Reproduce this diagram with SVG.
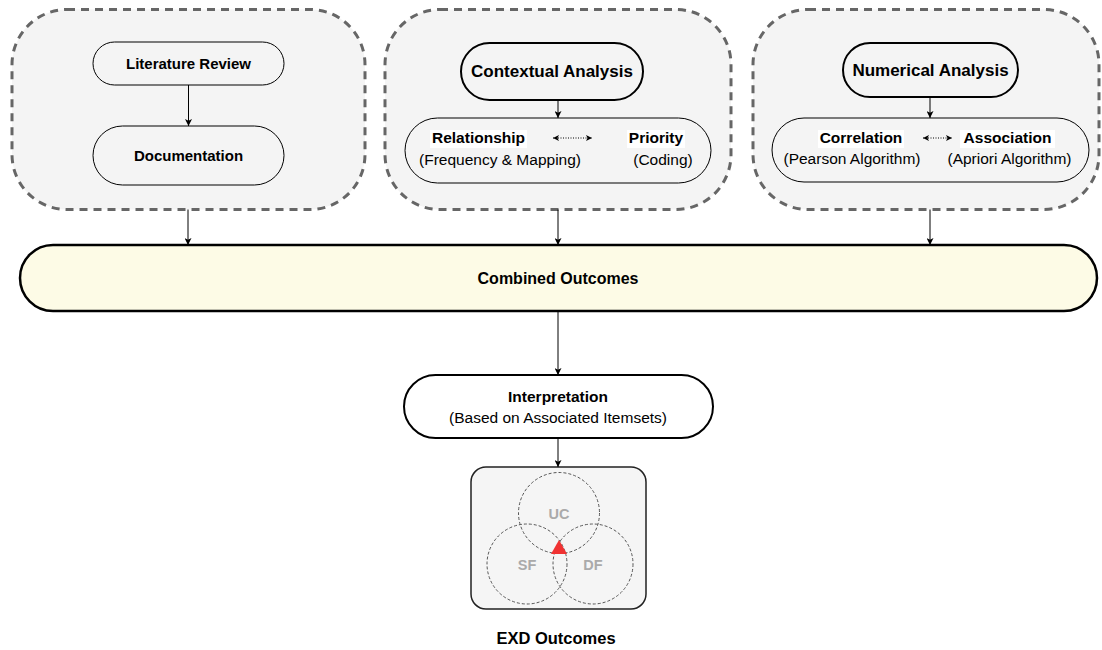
<svg xmlns="http://www.w3.org/2000/svg" width="1102" height="650" viewBox="0 0 1102 650">
  <style>
    .group { fill: #f4f4f4; stroke: #666666; stroke-width: 3; stroke-dasharray: 8 6; }
    .pill { fill: none; stroke: #000; stroke-width: 1; }
    .pill-bold { fill: none; stroke: #000; stroke-width: 2; }
    .t { font-family: "Liberation Sans", Arial, sans-serif; fill: #000; text-anchor: middle; }
    .b { font-weight: bold; }
    .edge { stroke: #000; stroke-width: 1; fill: none; }
    .dots { stroke: #000; stroke-width: 1; stroke-dasharray: 1 1.5; fill: none; }
    .venn { fill: none; stroke: #555; stroke-width: 1; stroke-dasharray: 3 2; }
    .vl { font-family: "Liberation Sans", Arial, sans-serif; font-weight: bold; font-size: 14.5px; fill: #aaaaaa; text-anchor: middle; }
  </style>
  <defs>
    <marker id="arrow" viewBox="0 0 10 10" refX="10" refY="5" markerWidth="7" markerHeight="7" markerUnits="userSpaceOnUse" orient="auto">
      <path d="M0,0 L10,5 L0,10 L2.5,5 Z" fill="#000"/>
    </marker>
    <marker id="small" viewBox="0 0 10 10" refX="10" refY="5" markerWidth="6" markerHeight="6" markerUnits="userSpaceOnUse" orient="auto-start-reverse">
      <path d="M0,0 L10,5 L0,10 L2.5,5 Z" fill="#000"/>
    </marker>
  </defs>

  <!-- Qualitative source group -->
  <g id="group-literature">
    <rect class="group" x="12" y="9.5" width="353" height="200" rx="55" ry="55"/>
  </g>
  <g id="node-literature-review">
    <rect class="pill" x="93" y="42" width="191" height="43" rx="21.5" ry="21.5"/>
    <text class="t b" x="188.5" y="69" font-size="15">Literature Review</text>
  </g>
  <g id="node-documentation">
    <rect class="pill" x="93" y="126" width="191" height="59" rx="29.5" ry="29.5"/>
    <text class="t b" x="188.5" y="161" font-size="15">Documentation</text>
  </g>

  <!-- Contextual group -->
  <g id="group-contextual">
    <rect class="group" x="385" y="9.5" width="346" height="200" rx="55" ry="55"/>
  </g>
  <g id="node-contextual-analysis">
    <rect class="pill-bold" x="461" y="43" width="182" height="57" rx="28.5" ry="28.5"/>
    <text class="t b" x="552" y="77" font-size="17">Contextual Analysis</text>
  </g>
  <g id="node-relationship-priority">
    <rect class="pill" x="405" y="118" width="306" height="65" rx="32.5" ry="32.5"/>
    <rect x="430" y="130" width="97" height="18" fill="#fff"/>
    <rect x="627" y="130" width="58" height="18" fill="#fff"/>
    <text class="t b" x="478.5" y="143" font-size="15.5">Relationship</text>
    <text class="t" x="500" y="165" font-size="15.5">(Frequency &amp; Mapping)</text>
    <text class="t b" x="656" y="143" font-size="15.5">Priority</text>
    <text class="t" x="663" y="165" font-size="15.5">(Coding)</text>
  </g>

  <!-- Numerical group -->
  <g id="group-numerical">
    <rect class="group" x="753" y="9.5" width="346" height="200" rx="55" ry="55"/>
  </g>
  <g id="node-numerical-analysis">
    <rect class="pill-bold" x="843" y="43" width="175" height="54" rx="27" ry="27"/>
    <text class="t b" x="930.5" y="76" font-size="17">Numerical Analysis</text>
  </g>
  <g id="node-correlation-association">
    <rect class="pill" x="772" y="118" width="317" height="64" rx="32" ry="32"/>
    <rect x="818" y="130" width="86" height="18" fill="#fff"/>
    <rect x="960" y="130" width="95" height="18" fill="#fff"/>
    <text class="t b" x="861" y="143" font-size="15.5">Correlation</text>
    <text class="t" x="852" y="164" font-size="15.5">(Pearson Algorithm)</text>
    <text class="t b" x="1007.5" y="143" font-size="15.5">Association</text>
    <text class="t" x="1009.5" y="164" font-size="15.5">(Apriori Algorithm)</text>
  </g>

  <!-- Merge bar -->
  <g id="node-combined-outcomes">
    <rect x="20" y="245" width="1077" height="66" rx="33" ry="33" fill="#fdfbe6" stroke="#000" stroke-width="2.5"/>
    <text class="t b" x="558" y="284" font-size="16">Combined Outcomes</text>
  </g>

  <g id="node-interpretation">
    <rect x="404" y="375" width="309" height="63" rx="31.5" ry="31.5" fill="#fff" stroke="#000" stroke-width="2"/>
    <text class="t b" x="558" y="402" font-size="15.5">Interpretation</text>
    <text class="t" x="558" y="423" font-size="15.5">(Based on Associated Itemsets)</text>
  </g>

  <!-- Venn of outcome dimensions -->
  <g id="node-exd-outcomes">
    <rect x="471" y="467" width="175" height="142" rx="15" ry="15" fill="#f5f5f5" stroke="#222" stroke-width="1.5"/>
    <circle class="venn" cx="559" cy="513" r="40.5"/>
    <circle class="venn" cx="527" cy="564" r="40"/>
    <circle class="venn" cx="593" cy="564" r="40"/>
    <text class="vl" x="559" y="518.5">UC</text>
    <text class="vl" x="527" y="569.5">SF</text>
    <text class="vl" x="593" y="569.5">DF</text>
    <polygon points="559,540 551,554 567,554" fill="#f03232"/>
    <text class="t b" x="556" y="644" font-size="16.5">EXD Outcomes</text>
  </g>

  <!-- Connectors -->
  <g id="connectors">
    <line class="edge" x1="188.5" y1="85" x2="188.5" y2="126" marker-end="url(#arrow)"/>
    <line class="edge" x1="558" y1="100" x2="558" y2="118" marker-end="url(#arrow)"/>
    <line class="edge" x1="930" y1="97" x2="930" y2="118" marker-end="url(#arrow)"/>
    <line class="dots" x1="553" y1="138" x2="592" y2="138" marker-start="url(#small)" marker-end="url(#small)"/>
    <line class="dots" x1="923" y1="138" x2="952" y2="138" marker-start="url(#small)" marker-end="url(#small)"/>
    <line class="edge" x1="188" y1="209.5" x2="188" y2="245" marker-end="url(#arrow)"/>
    <line class="edge" x1="558" y1="209.5" x2="558" y2="245" marker-end="url(#arrow)"/>
    <line class="edge" x1="930" y1="209.5" x2="930" y2="245" marker-end="url(#arrow)"/>
    <line class="edge" x1="558" y1="311" x2="558" y2="375" marker-end="url(#arrow)"/>
    <line class="edge" x1="558" y1="438" x2="558" y2="467" marker-end="url(#arrow)"/>
  </g>
</svg>
